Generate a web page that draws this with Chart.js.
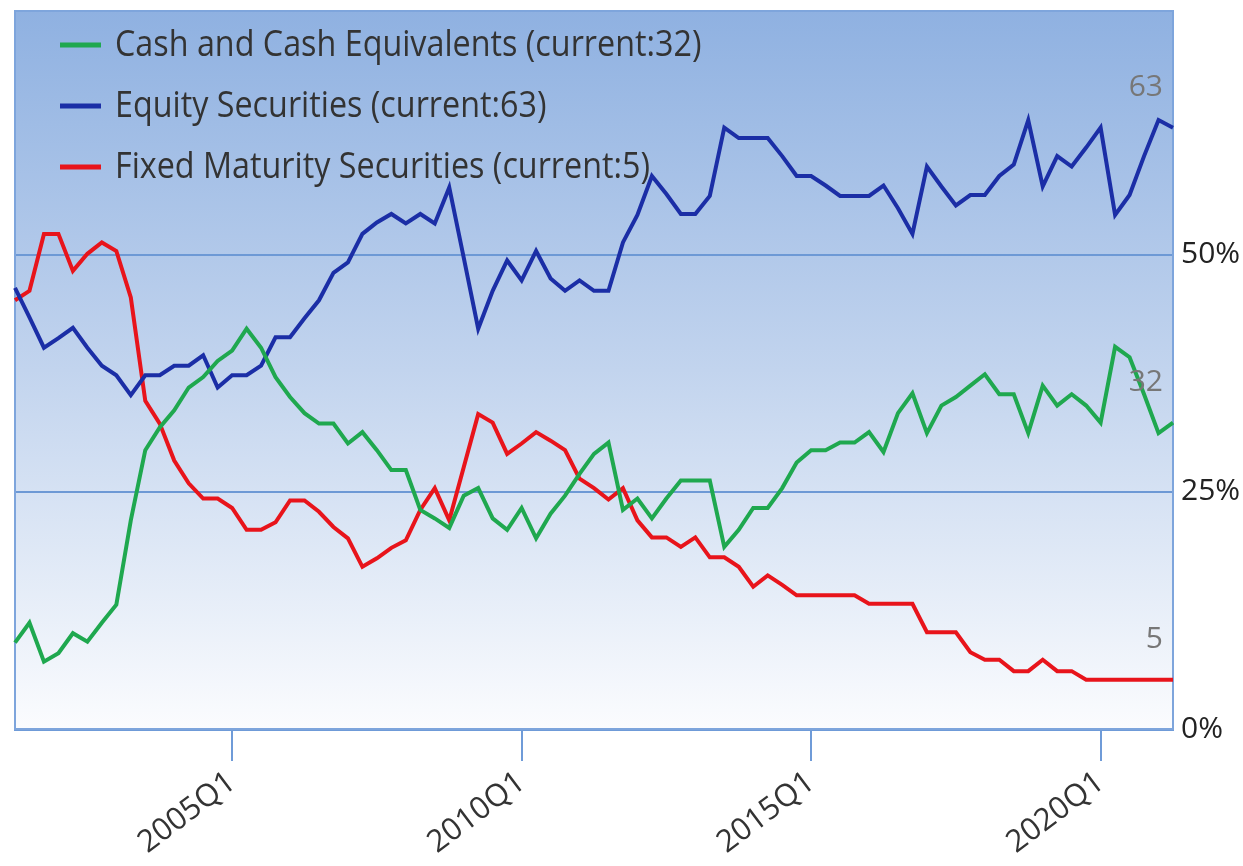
<!DOCTYPE html>
<html>
<head>
<meta charset="utf-8">
<script src="https://cdn.jsdelivr.net/npm/chart.js@4.4.1/dist/chart.umd.min.js"></script>
<style>
  html, body { margin: 0; padding: 0; background: #ffffff; }
  #wrap { width: 1243px; height: 866px; }
</style>
</head>
<body>
<div id="wrap"><canvas id="c" width="1243" height="866"></canvas></div>
<script>
// ---------- data ----------
const quarters = [
  '2001Q2','2001Q3','2001Q4',
  '2002Q1','2002Q2','2002Q3','2002Q4',
  '2003Q1','2003Q2','2003Q3','2003Q4',
  '2004Q1','2004Q2','2004Q3','2004Q4',
  '2005Q1','2005Q2','2005Q3','2005Q4',
  '2006Q1','2006Q2','2006Q3','2006Q4',
  '2007Q1','2007Q2','2007Q3','2007Q4',
  '2008Q1','2008Q2','2008Q3','2008Q4',
  '2009Q1','2009Q2','2009Q3','2009Q4',
  '2010Q1','2010Q2','2010Q3','2010Q4',
  '2011Q1','2011Q2','2011Q3','2011Q4',
  '2012Q1','2012Q2','2012Q3','2012Q4',
  '2013Q1','2013Q2','2013Q3','2013Q4',
  '2014Q1','2014Q2','2014Q3','2014Q4',
  '2015Q1','2015Q2','2015Q3','2015Q4',
  '2016Q1','2016Q2','2016Q3','2016Q4',
  '2017Q1','2017Q2','2017Q3','2017Q4',
  '2018Q1','2018Q2','2018Q3','2018Q4',
  '2019Q1','2019Q2','2019Q3','2019Q4',
  '2020Q1','2020Q2','2020Q3','2020Q4',
  '2021Q1','2021Q2'
];

const seriesNames = ['Cash and Cash Equivalents', 'Equity Securities', 'Fixed Maturity Securities'];

const cashValues = [
  9.1, 11.2, 7.1, 8.0, 10.1, 9.2, 11.2, 13.1, 22.0, 29.4,
  31.8, 33.6, 36.0, 37.1, 38.8, 39.9, 42.2, 40.2, 37.1, 35.0,
  33.3, 32.2, 32.2, 30.1, 31.3, 29.4, 27.3, 27.3, 23.1, 22.2,
  21.2, 24.6, 25.4, 22.2, 21.0, 23.3, 20.1, 22.7, 24.6, 26.9,
  29.0, 30.2, 23.1, 24.3, 22.2, 24.3, 26.2, 26.2, 26.2, 19.2,
  21.0, 23.3, 23.3, 25.4, 28.1, 29.4, 29.4, 30.2, 30.2, 31.3,
  29.2, 33.3, 35.4, 31.2, 34.1, 35.0, 36.2, 37.4, 35.3, 35.3,
  31.2, 36.2, 34.1, 35.3, 34.1, 32.3, 40.3, 39.2, 35.3, 31.2,
  32.3
];

const equityValues = [
  46.5, 43.4, 40.2, 41.2, 42.3, 40.2, 38.3, 37.3, 35.2, 37.3,
  37.3, 38.3, 38.3, 39.4, 36.0, 37.3, 37.3, 38.3, 41.3, 41.3,
  43.3, 45.2, 48.1, 49.2, 52.2, 53.4, 54.3, 53.3, 54.3, 53.3,
  57.1, 49.7, 42.2, 46.2, 49.4, 47.3, 50.4, 47.5, 46.2, 47.3,
  46.2, 46.2, 51.3, 54.2, 58.3, 56.4, 54.3, 54.3, 56.2, 63.4,
  62.3, 62.3, 62.3, 60.4, 58.3, 58.3, 57.3, 56.2, 56.2, 56.2,
  57.3, 54.9, 52.2, 59.3, 57.2, 55.2, 56.3, 56.3, 58.3, 59.5,
  64.2, 57.2, 60.4, 59.3, 61.3, 63.4, 54.2, 56.3, 60.4, 64.2,
  63.4
];

const fixedValues = [
  45.2, 46.2, 52.2, 52.2, 48.3, 50.1, 51.3, 50.4, 45.5, 34.6,
  32.2, 28.3, 25.9, 24.3, 24.3, 23.3, 21.0, 21.0, 21.8, 24.1,
  24.1, 22.9, 21.3, 20.1, 17.1, 18.0, 19.1, 19.9, 23.1, 25.4,
  22.0, 27.6, 33.2, 32.3, 29.0, 30.1, 31.3, 30.4, 29.4, 26.4,
  25.4, 24.2, 25.4, 22.0, 20.2, 20.2, 19.2, 20.2, 18.1, 18.1,
  17.1, 15.0, 16.2, 15.2, 14.1, 14.1, 14.1, 14.1, 14.1, 13.2,
  13.2, 13.2, 13.2, 10.2, 10.2, 10.2, 8.1, 7.3, 7.3, 6.1,
  6.1, 7.3, 6.1, 6.1, 5.2, 5.2, 5.2, 5.2, 5.2, 5.2,
  5.2
];

const xTickLabels = ['2005Q1', '2010Q1', '2015Q1', '2020Q1'];
const yTickValues = [0, 25, 50];
const yMin = 0;
const yMax = 75.7;

// ---------- styles ----------
const seriesColors = ['#1fa84f', '#1b2ea6', '#e8141b'];
const FONT = '"Open Sans", "DejaVu Sans", sans-serif';

function currentOf(arr) { return Math.round(arr[arr.length - 1]); }

const seriesValues = [cashValues, equityValues, fixedValues];

// ---------- plugins ----------
const backgroundPlugin = {
  id: 'plotBackground',
  beforeDraw(chart) {
    const { ctx, chartArea: a } = chart;
    if (!a) return;
    const g = ctx.createLinearGradient(0, a.top, 0, a.bottom);
    g.addColorStop(0, '#8fb1e1');
    g.addColorStop(0.5, '#c2d4ee');
    g.addColorStop(1, '#fbfcfe');
    ctx.save();
    ctx.fillStyle = g;
    ctx.fillRect(a.left, a.top, a.right - a.left, a.bottom - a.top);
    ctx.restore();
  },
  beforeDatasetsDraw(chart) {
    const { ctx, chartArea: a } = chart;
    ctx.save();
    ctx.strokeStyle = '#7ea5dc';
    ctx.lineWidth = 2;
    ctx.strokeRect(a.left, a.top, a.right - a.left, a.bottom - a.top);
    ctx.restore();

    // legend inside plot (drawn under the lines)
    ctx.save();
    chart.data.datasets.forEach((ds, i) => {
      const y = a.top + 34 + i * 61;
      ctx.strokeStyle = ds.borderColor;
      ctx.lineWidth = 5;
      ctx.beginPath();
      ctx.moveTo(a.left + 45, y);
      ctx.lineTo(a.left + 86, y);
      ctx.stroke();
      ctx.save();
      ctx.translate(a.left + 100, y + 1);
      ctx.scale(0.95, 1.05);
      ctx.font = '34px ' + FONT;
      ctx.fillStyle = '#333333';
      ctx.textBaseline = 'middle';
      ctx.textAlign = 'left';
      ctx.fillText(ds.label, 0, 0);
      ctx.restore();
    });
    ctx.restore();
  },
  afterDatasetsDraw(chart) {
    const { ctx } = chart;
    ctx.save();
    ctx.font = '30px ' + FONT;
    ctx.fillStyle = '#777777';
    ctx.textAlign = 'right';
    ctx.textBaseline = 'middle';
    chart.data.datasets.forEach((ds, i) => {
      const meta = chart.getDatasetMeta(i);
      const pt = meta.data[meta.data.length - 1];
      ctx.fillText(String(currentOf(seriesValues[i])), pt.x - 10, pt.y - 40);
    });
    ctx.restore();
  }
};

// ---------- chart ----------
const ctx = document.getElementById('c').getContext('2d');
new Chart(ctx, {
  type: 'line',
  data: {
    labels: quarters,
    datasets: seriesValues.map((vals, i) => ({
      label: seriesNames[i] + ' (current:' + currentOf(vals) + ')',
      data: vals,
      borderColor: seriesColors[i],
      backgroundColor: seriesColors[i],
      borderWidth: 4,
      pointRadius: 0,
      tension: 0,
      fill: false
    }))
  },
  options: {
    responsive: false,
    animation: false,
    devicePixelRatio: 1,
    layout: { padding: { left: 15, top: 11, right: 0, bottom: 0 } },
    plugins: {
      legend: { display: false },
      tooltip: { enabled: false }
    },
    scales: {
      x: {
        type: 'category',
        offset: false,
        afterFit(scale) {
          scale.height = 137;
          scale.paddingLeft = 0;
          scale.paddingRight = 0;
        },
        grid: {
          drawOnChartArea: false,
          drawTicks: true,
          tickLength: 32,
          color: '#6f9bd8',
          lineWidth: 2
        },
        border: { display: true, color: '#6f9bd8', width: 3 },
        ticks: {
          autoSkip: false,
          maxRotation: 37,
          minRotation: 37,
          padding: 3,
          color: '#333333',
          font: { family: FONT, size: 31 },
          callback(value, index) {
            const lab = quarters[index];
            return xTickLabels.includes(lab) ? lab : null;
          }
        }
      },
      y: {
        type: 'linear',
        position: 'right',
        min: yMin,
        max: yMax,
        afterFit(scale) {
          scale.width = 70;
          scale.paddingTop = 0;
          scale.paddingBottom = 0;
        },
        afterBuildTicks(scale) {
          scale.ticks = yTickValues.map(v => ({ value: v }));
        },
        grid: {
          drawTicks: false,
          color: '#6d99d5',
          lineWidth: 2
        },
        border: { display: false },
        ticks: {
          padding: 8,
          color: '#222222',
          font: { family: FONT, size: 30 },
          callback(v) { return v + '%'; }
        }
      }
    }
  },
  plugins: [backgroundPlugin]
});
</script>
</body>
</html>
